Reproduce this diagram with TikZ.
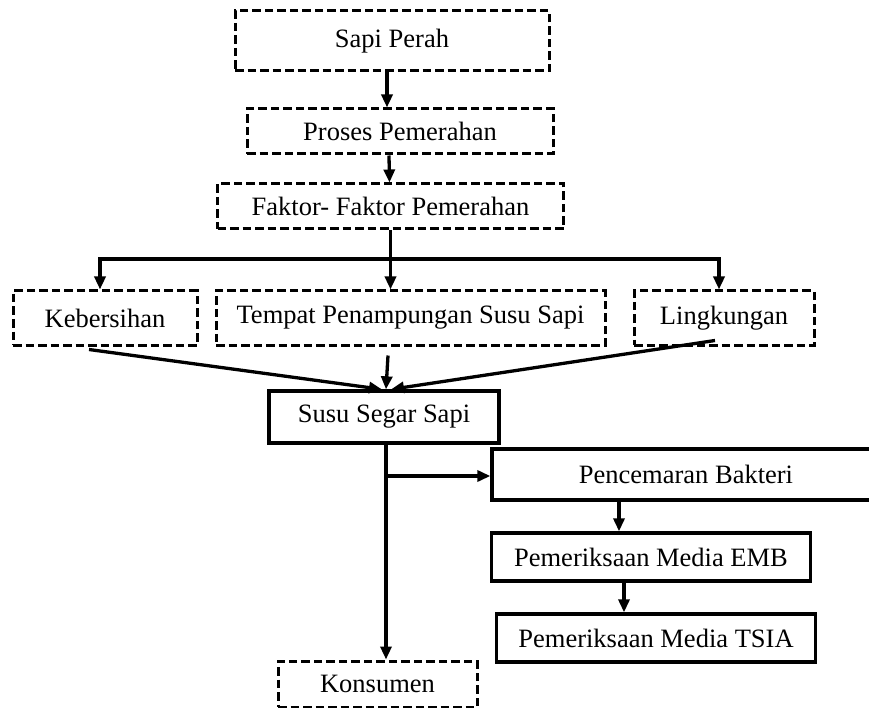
\documentclass[tikz,border=0pt]{standalone}
\usepackage{fontspec}
\setmainfont{Liberation Serif}
\usetikzlibrary{arrows.meta,calc}
\begin{document}
\begin{tikzpicture}[x=1pt,y=-1pt,
  box/.style={draw=black,inner sep=0pt,font=\fontsize{26.5}{31}\selectfont,align=center},
  dbox/.style={box,line width=3pt,dash pattern=on 8.5pt off 4pt},
  sbox/.style={box,line width=3.3pt},
  line/.style={line width=3.3pt},
  arr/.style={line width=3.3pt,-{Triangle[length=13pt,width=11pt]}}]
\useasboundingbox (0,0) rectangle (869,708);
\clip (0,0) rectangle (869,708);
% nodes
\node[dbox,minimum width=314pt,minimum height=60pt] (sapi) at (392,41) {Sapi Perah};
\node[dbox,minimum width=306pt,minimum height=45pt] (proses) at (400,131.5) {Proses Pemerahan};
\node[dbox,minimum width=346pt,minimum height=45pt] (faktor) at (390.5,206.5) {Faktor- Faktor Pemerahan};
\node[dbox,minimum width=184pt,minimum height=54pt] (keb) at (105,318) {Kebersihan};
\node[dbox,minimum width=389pt,minimum height=54pt] (tempat) at (410.5,318) {Tempat Penampungan Susu Sapi};
\node[dbox,minimum width=180pt,minimum height=54pt] (ling) at (724,318) {Lingkungan};
\node[sbox,minimum width=230pt,minimum height=52pt] (susu) at (384,417) {Susu Segar Sapi};
\node[sbox,minimum width=388pt,minimum height=51pt] (penc) at (686,474.5) {Pencemaran Bakteri};
\node[sbox,minimum width=319pt,minimum height=48pt] (emb) at (651,557) {Pemeriksaan Media EMB};
\node[sbox,minimum width=319pt,minimum height=48pt] (tsia) at (656,638) {Pemeriksaan Media TSIA};
\node[dbox,minimum width=199pt,minimum height=46pt] (kons) at (377.5,684) {Konsumen};
% connectors
\draw[arr] ([xshift=-5pt]sapi.south) -- ([xshift=-13pt]proses.north);
\draw[arr] ([xshift=-11pt]proses.south) -- ([xshift=-1pt]faktor.north);
\coordinate (j) at (390.5,259);
\draw[line] (faktor.south) -- (j);
\draw[arr] (j) -| ([xshift=-5pt]keb.north);
\draw[arr] (j) -- ([xshift=-20pt]tempat.north);
\draw[arr] (j) -| ([xshift=-5pt]ling.north);
\draw[arr] ([xshift=-16pt,yshift=-3pt]keb.south) -- ([xshift=-2pt]susu.north);
\draw[arr] ([xshift=-22.5pt,yshift=-9pt]tempat.south) -- ([xshift=2pt]susu.north);
\draw[arr] ([xshift=-9pt,yshift=6pt]ling.south) -- ([xshift=7pt]susu.north);
\draw[arr] ([xshift=2pt]susu.south) -- ([xshift=2pt]susu.south |- kons.north);
\draw[arr] ([xshift=2pt,yshift=-1.5pt]susu.south |- penc.west) -- ([yshift=-1.5pt]penc.west);
\draw[arr] ([xshift=-67pt]penc.south) -- ([xshift=-32pt]emb.north);
\draw[arr] ([xshift=-27pt]emb.south) -- ([xshift=-32pt]tsia.north);
\end{tikzpicture}
\end{document}
